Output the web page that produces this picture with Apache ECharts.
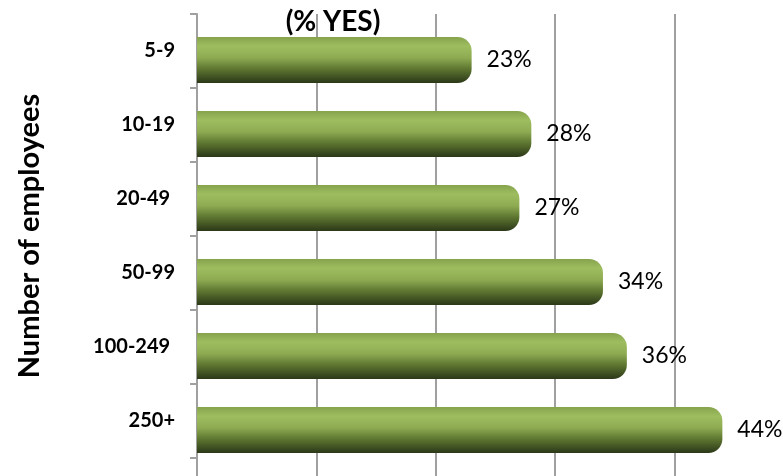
<!DOCTYPE html>
<html>
<head>
<meta charset="utf-8">
<script src="https://cdn.jsdelivr.net/npm/echarts@6/dist/echarts.min.js"></script>
<style>
  html, body { margin: 0; padding: 0; background: #fff; }
  #container { width: 783px; height: 476px; }
</style>
</head>
<body>
<div id="container"></div>
<script>
var categories = ['5-9', '10-19', '20-49 ', '50-99', '100-249 ', '250+'];
var yesPercent = [23, 28, 27, 34, 36, 44];
var spacer = [0, 0, 0, 0, 0, 0];

var dom = document.getElementById('container');
var myChart = echarts.init(dom, null, { renderer: 'canvas' });

var barGradient = new echarts.graphic.LinearGradient(0, 0, 0, 1, [
  { offset: 0, color: '#86a34c' },
  { offset: 0.2, color: '#9ebd5f' },
  { offset: 0.45, color: '#8eab52' },
  { offset: 0.7, color: '#5d7530' },
  { offset: 1, color: '#2b3818' }
]);

var option = {
  animation: false,
  title: {
    text: '(% YES)',
    left: 328,
    top: 3,
    textAlign: 'center',
    textStyle: { fontFamily: 'Lato', fontSize: 28, fontWeight: 'bold', color: '#000' }
  },
  grid: {
    left: 197,
    top: 14,
    height: 444,
    width: 597,
    containLabel: false,
    outerBoundsMode: 'none'
  },
  xAxis: {
    type: 'value',
    min: 0,
    max: 50,
    interval: 10,
    axisLine: { show: false },
    axisTick: { show: true, length: 18, lineStyle: { color: '#a0a0a0', width: 2 } },
    axisLabel: { show: false },
    splitLine: { show: true, lineStyle: { color: '#a0a0a0', width: 2 } }
  },
  yAxis: {
    type: 'category',
    inverse: true,
    data: categories,
    name: 'Number of employees',
    nameLocation: 'middle',
    nameRotate: 90,
    nameGap: 153,
    nameTextStyle: { fontFamily: 'Lato', fontSize: 29, fontWeight: 'bold', color: '#000' },
    axisLine: { show: true, lineStyle: { color: '#a0a0a0', width: 2 } },
    axisTick: { show: true, length: 7, lineStyle: { color: '#a0a0a0', width: 2 } },
    axisLabel: { margin: 22, fontFamily: 'Lato', fontSize: 20, fontWeight: 'bold', color: '#000' }
  },
  series: [
    {
      type: 'bar',
      data: spacer,
      barWidth: 18,
      barGap: '0%',
      silent: true,
      itemStyle: { color: 'rgba(0,0,0,0)' }
    },
    {
      type: 'bar',
      data: yesPercent,
      barWidth: 46,
      itemStyle: { color: barGradient, borderRadius: [0, 14, 14, 0] },
      label: {
        show: true,
        position: 'right',
        distance: 15,
        formatter: '{c}%',
        fontFamily: 'Lato',
        fontSize: 23,
        color: '#000'
      }
    }
  ]
};

myChart.setOption(option);
window.addEventListener('resize', myChart.resize);
</script>
</body>
</html>
